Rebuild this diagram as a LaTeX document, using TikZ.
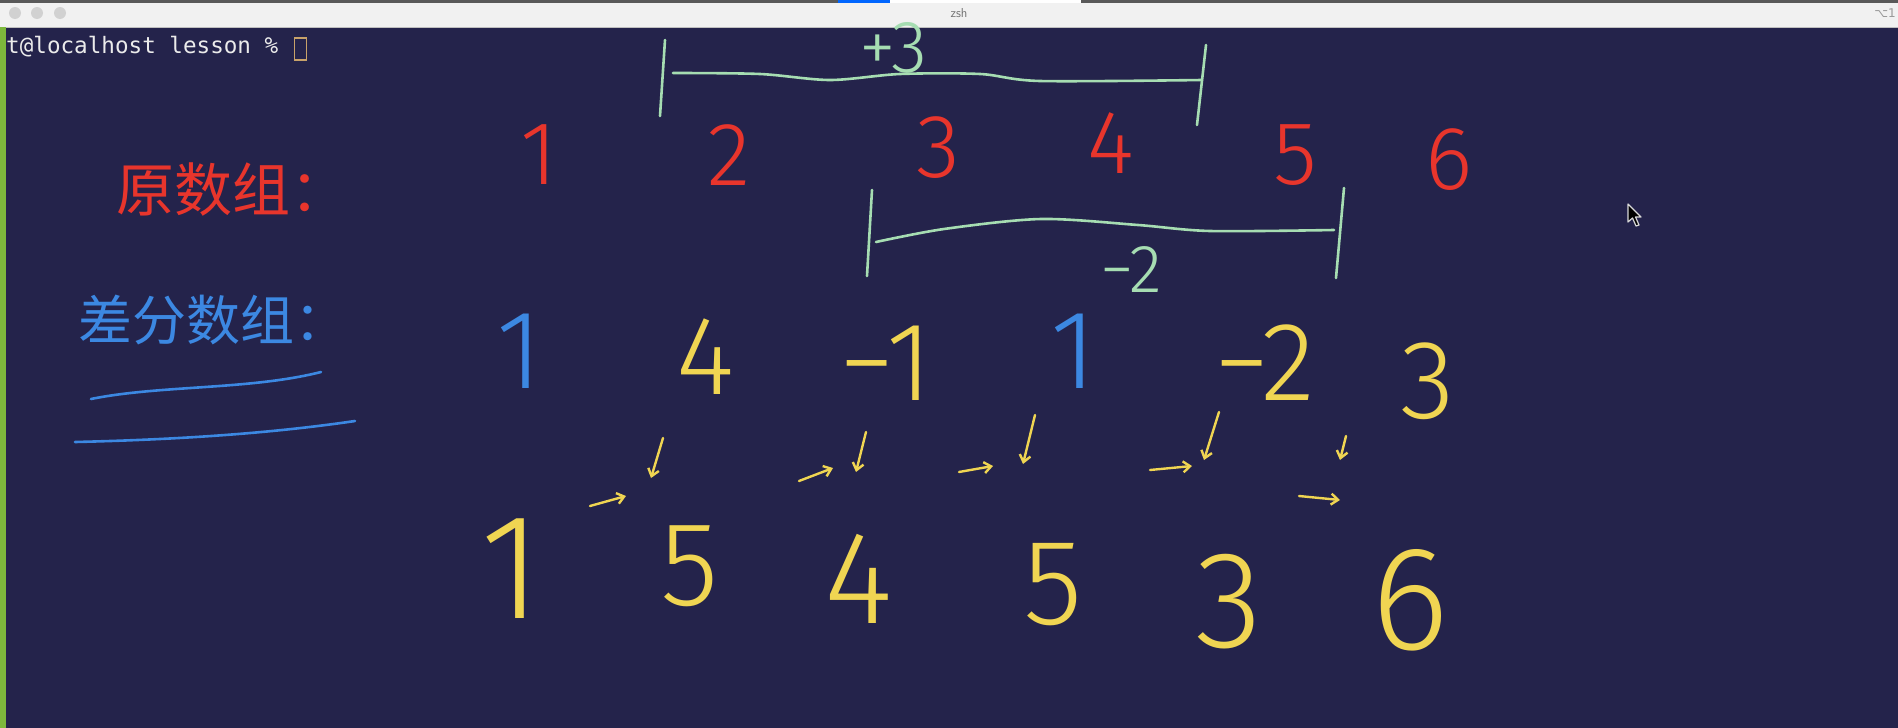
\documentclass[tikz,border=0pt]{standalone}
\usepackage{fontspec}
\usetikzlibrary{arrows.meta}
\newfontfamily\hand{Fira Sans Light}
\newfontfamily\cjk{Noto Sans CJK SC}
\newfontfamily\termfont{DejaVu Sans Mono}
\newfontfamily\symfont{DejaVu Sans}
\definecolor{bg}{HTML}{24234B}
\definecolor{hred}{HTML}{E8352C}
\definecolor{hgreen}{HTML}{A6DDB2}
\definecolor{hblue}{HTML}{3C88E2}
\definecolor{hyellow}{HTML}{F0D552}
\definecolor{titlebar}{HTML}{F1F1F1}
\definecolor{termgreen}{HTML}{7DB83C}
\definecolor{cursorc}{HTML}{C8A26A}
\tikzset{
  hw/.style={inner sep=0pt, font=\hand\fontsize{#1}{#1}\selectfont},
  reddigit/.style={hw=#1, text=hred},
  yeldigit/.style={hw=#1, text=hyellow},
  bluedigit/.style={hw=#1, text=hblue},
  greenlbl/.style={hw=#1, text=hgreen},
  gstroke/.style={draw=hgreen, line width=2.6pt, line cap=round, line join=round},
  bstroke/.style={draw=hblue, line width=2.6pt, line cap=round},
  yarrow/.style={draw=hyellow, line width=2.4pt, line cap=round, -{Straight Barb[length=7pt,width=11pt]}},
}
\begin{document}
\begin{tikzpicture}[x=1pt,y=-1pt]
\useasboundingbox (0,0) rectangle (1898,728);
% background
\fill[bg] (0,0) rectangle (1898,728);
% window chrome
\fill[titlebar] (0,3) rectangle (1898,27);
\fill[black!65] (0,0) rectangle (1898,3);
\fill[blue!60!cyan] (838,0) rectangle (890,3);
\fill[white] (890,0) rectangle (1081,3);
\draw[black!25, line width=1pt] (0,27) -- (1898,27);
\foreach \cx [count=\i] in {15,37,60} \fill[black!18] (\cx,13) circle (6);
\node[font=\sffamily\fontsize{13}{13}\selectfont, text=black!55] (title) at (959,13) {zsh};
\node[font=\symfont\fontsize{12}{12}\selectfont, text=black!40, anchor=east, inner sep=0pt] (kbd) at (1896,13) {⌥1};
\fill[termgreen] (0,27) rectangle (6,728);
% terminal prompt
\node[font=\termfont\fontsize{22.6}{22.6}\selectfont, text=black!8, anchor=base west, inner sep=0pt] (prompt) at (6,53) {t@localhost lesson \%};
\draw[cursorc, line width=1.6pt] (294.5,38) rectangle (306.5,60);
% mouse pointer
\draw[white!85!black, line width=1.2pt, fill=black, line join=round]
  (1628,204) -- (1628,222) -- (1632.5,218) -- (1636,226) -- (1639,225) -- (1635.5,217) -- (1641,217) -- cycle;

% labels
\node[text=hred, font=\cjk\fontsize{58}{58}\selectfont, inner sep=0pt] (orig) at (232,190) {原数组：};
\node[text=hblue, font=\cjk\fontsize{54}{54}\selectfont, inner sep=0pt] (diff) at (213,320) {差分数组：};
\draw[bstroke] (91,399) .. controls (160,385) and (250,390) .. (321,372);
\draw[bstroke] (75,442) .. controls (160,440) and (260,435) .. (355,421);

% original array (red)
\node[reddigit=90] (a1) at (539,155) {1};
\node[reddigit=90] (a2) at (729,155) {2};
\node[reddigit=90] (a3) at (938,148) {3};
\node[reddigit=90] (a4) at (1111,143) {4};
\node[reddigit=90] (a5) at (1295,155) {5};
\node[reddigit=90] (a6) at (1449,160) {6};

% green brackets
\draw[gstroke] (665,40) -- (660,116);
\draw[gstroke] plot[smooth] coordinates {(673,73) (760,74) (830,80) (900,74) (980,74) (1040,81) (1202,80)};
\draw[gstroke] (1206,45) -- (1197,125);
\node[greenlbl=74] (plus3) at (893,48) {+3};
\draw[gstroke] (872,190) -- (867,276);
\draw[gstroke] plot[smooth] coordinates {(876,242) (944,229) (1041,219) (1138,225) (1210,231) (1334,230)};
\draw[gstroke] (1344,188) -- (1336,278);
\node[greenlbl=68] (minus2) at (1131,270) {−2};

% difference array
\node[bluedigit=112] (d1) at (520,351) {1};
\node[yeldigit=112] (d2) at (706,357) {4};
\node[yeldigit=112] (d3) at (886,363) {−1};
\node[bluedigit=112] (d4) at (1074,351) {1};
\node[yeldigit=112] (d5) at (1265,363) {−2};
\node[yeldigit=112] (d6) at (1428,381) {3};

% small arrows
\draw[yarrow] (663,438) -- (651,478);
\draw[yarrow] (590,506) -- (626,496);
\draw[yarrow] (866,432) -- (856,472);
\draw[yarrow] (799,481) -- (833,468);
\draw[yarrow] (1035,415) -- (1023,464);
\draw[yarrow] (959,472) -- (993,466);
\draw[yarrow] (1219,412) -- (1204,460);
\draw[yarrow] (1150,470) -- (1192,466);
\draw[yarrow] (1346,436) -- (1340,460);
\draw[yarrow] (1299,496) -- (1340,500);

% prefix sums (yellow)
\node[yeldigit=150] (s1) at (511,569) {1};
\node[yeldigit=120] (s2) at (690,566) {5};
\node[yeldigit=132] (s3) at (859,579) {4};
\node[yeldigit=122] (s4) at (1053,585) {5};
\node[yeldigit=138] (s5) at (1229,602) {3};
\node[yeldigit=148] (s6) at (1410,600) {6};
\end{tikzpicture}
\end{document}
